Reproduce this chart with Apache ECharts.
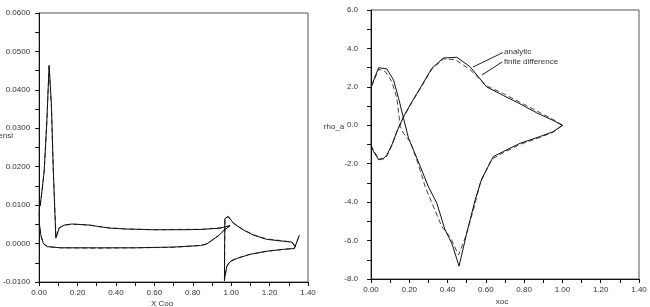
<!DOCTYPE html>
<html>
<head>
<meta charset="utf-8">
<script src="https://cdn.jsdelivr.net/npm/echarts@6/dist/echarts.min.js"></script>
<style>
    html, body { margin: 0; padding: 0; background: #fff; }
    #box { width: 650px; height: 307px; }
</style>
</head>
<body>
<div id="box"></div>
<script>
/*左图: 主翼和襟翼  [x, y]*/
var mainSolid = [
    [0.994, 0.0047], [0.942, 0.0040], [0.85, 0.0037], [0.751, 0.0036], [0.6, 0.0036],
    [0.526, 0.0037], [0.45, 0.0038], [0.37, 0.0040], [0.3, 0.0045], [0.265, 0.0048],
    [0.2, 0.0050], [0.17, 0.0051], [0.13, 0.0048], [0.104, 0.0040], [0.087, 0.0014],
    [0.083, 0.0018], [0.074, 0.0187], [0.064, 0.0360], [0.052, 0.0464], [0.04, 0.0317],
    [0.026, 0.0187], [0.012, 0.0125], [0.005, 0.0098], [0.003, 0.0104], [0.001, 0.0085],
    [0.0016, 0.0050], [0.009, 0.0022], [0.022, 0.0000], [0.043, -0.0008], [0.113, -0.0011],
    [0.3, -0.0011], [0.5, -0.0011], [0.7, -0.0009], [0.84, -0.0005], [0.873, -0.0001],
    [0.89, 0.0005], [0.933, 0.0020], [0.96, 0.0033], [0.994, 0.0047]
];
var mainDashed = [
    [0.994, 0.0046], [0.942, 0.0041], [0.85, 0.0037], [0.751, 0.0037], [0.6, 0.0036],
    [0.526, 0.0037], [0.45, 0.0038], [0.37, 0.0041], [0.3, 0.0045], [0.265, 0.0048],
    [0.2, 0.0050], [0.17, 0.0050], [0.13, 0.0048], [0.104, 0.0041], [0.088, 0.0015],
    [0.083, 0.0020], [0.074, 0.0185], [0.064, 0.0355], [0.052, 0.0460], [0.04, 0.0315],
    [0.026, 0.0185], [0.012, 0.0124], [0.005, 0.0097], [0.003, 0.0103], [0.001, 0.0084],
    [0.0016, 0.0049], [0.009, 0.0021], [0.022, 0.0000], [0.043, -0.0008], [0.113, -0.0011],
    [0.3, -0.0012], [0.5, -0.0011], [0.7, -0.0010], [0.84, -0.0005], [0.873, -0.0001],
    [0.89, 0.0005], [0.933, 0.0021], [0.96, 0.0034], [0.994, 0.0046]
];
var flapSolid = [
    [1.333, -0.0008], [1.316, 0.0004], [1.255, 0.0007], [1.185, 0.0011], [1.116, 0.0022],
    [1.064, 0.0035], [1.011, 0.0053], [0.995, 0.0064], [0.985, 0.0071], [0.975, 0.0072],
    [0.967, 0.0065], [0.966, 0.0000], [0.965, -0.0097], [0.968, -0.0085], [0.977, -0.0060],
    [0.994, -0.0047], [1.029, -0.0039], [1.098, -0.0028], [1.185, -0.0020], [1.272, -0.0015],
    [1.329, -0.0013], [1.333, -0.0011], [1.355, 0.0022]
];
var flapDashed = [
    [1.333, -0.0007], [1.316, 0.0004], [1.255, 0.0008], [1.185, 0.0012], [1.116, 0.0023],
    [1.064, 0.0036], [1.011, 0.0054], [0.995, 0.0063], [0.985, 0.0069], [0.975, 0.0070],
    [0.968, 0.0063], [0.966, 0.0000], [0.965, -0.0093], [0.968, -0.0083], [0.977, -0.0059],
    [0.994, -0.0046], [1.029, -0.0038], [1.098, -0.0028], [1.185, -0.0020], [1.272, -0.0015],
    [1.329, -0.0012], [1.333, -0.0010], [1.355, 0.0021]
];

/*右图: rho_a 解析 / 有限差分*/
var analytic = [
    [1.0, 0.0], [0.952, 0.25], [0.865, 0.65], [0.778, 1.12], [0.691, 1.55], [0.604, 2.0],
    [0.517, 3.05], [0.448, 3.54], [0.378, 3.5], [0.318, 2.97], [0.266, 2.09], [0.214, 1.23],
    [0.17, 0.45], [0.135, -0.33], [0.109, -1.02], [0.083, -1.54], [0.066, -1.72], [0.04, -1.8],
    [0.014, -1.37], [0.002, -1.1], [0.002, 2.04], [0.04, 3.0], [0.083, 2.93], [0.118, 2.35],
    [0.144, 1.41], [0.17, 0.37], [0.196, -0.67], [0.231, -1.5], [0.3, -3.2], [0.344, -4.06],
    [0.387, -5.45], [0.422, -6.14], [0.46, -7.33], [0.5, -5.62], [0.544, -3.89], [0.578, -2.8],
    [0.639, -1.63], [0.691, -1.37], [0.778, -0.94], [0.882, -0.59], [0.952, -0.33], [1.0, 0.0]
];
var finiteDiff = [
    [1.0, 0.0], [0.952, 0.3], [0.865, 0.75], [0.778, 1.2], [0.691, 1.65], [0.604, 2.05],
    [0.517, 2.9], [0.44, 3.42], [0.378, 3.45], [0.318, 2.92], [0.266, 2.05], [0.214, 1.2],
    [0.17, 0.42], [0.135, -0.35], [0.109, -1.05], [0.083, -1.6], [0.07, -1.75], [0.045, -1.75],
    [0.014, -1.35], [0.002, -1.05], [0.002, 2.0], [0.04, 2.92], [0.075, 2.79], [0.109, 2.27],
    [0.135, 1.41], [0.153, -0.07], [0.17, -0.42], [0.205, -0.85], [0.248, -2.06], [0.283, -3.2],
    [0.37, -5.28], [0.413, -5.8], [0.457, -6.75], [0.491, -5.88], [0.535, -4.41], [0.57, -3.02],
    [0.63, -1.76], [0.691, -1.43], [0.778, -1.0], [0.882, -0.63], [0.952, -0.36], [1.0, 0.0]
];

var fontName = '"Liberation Sans", Arial, sans-serif';

var axisCommon = function (min, max, interval, digits, margin) {
    return {
        type: 'value',
        min: min,
        max: max,
        interval: interval,
        axisLine: { show: true, onZero: false, lineStyle: { color: '#111', width: 1 } },
        axisTick: { show: true, inside: false, length: 4, lineStyle: { color: '#111' } },
        minorTick: { show: true, splitNumber: 2, length: 4, lineStyle: { color: '#111' } },
        splitLine: { show: false },
        axisLabel: {
            color: '#333', fontSize: 8, fontFamily: fontName, margin: margin,
            formatter: function (v) { return v.toFixed(digits); }
        }
    };
};

var lineSeries = function (data, dashed, xi, yi) {
    return {
        type: 'line',
        xAxisIndex: xi,
        yAxisIndex: yi,
        data: data,
        symbol: 'none',
        showSymbol: false,
        silent: true,
        lineStyle: {
            color: dashed ? '#444' : '#111',
            width: 1,
            type: dashed ? [5, 3] : 'solid'
        }
    };
};

var textItem = function (x, y, str, align) {
    return {
        type: 'text', x: x, y: y,
        style: { text: str, fill: '#333', font: '8px ' + fontName, textAlign: align, textVerticalAlign: 'middle' }
    };
};

var box = document.getElementById('box');
var myChart = echarts.init(box);
var options = {
    animation: false,
    backgroundColor: '#fff',
    grid: [
        { left: 39, top: 13, width: 269, height: 269, show: true, borderColor: '#555', borderWidth: 1 },
        { left: 371, top: 10, width: 268, height: 269, show: true, borderColor: '#555', borderWidth: 1 }
    ],
    xAxis: [
        Object.assign(axisCommon(0, 1.4, 0.2, 2, 7), { gridIndex: 0 }),
        Object.assign(axisCommon(0, 1.4, 0.2, 2, 7), { gridIndex: 1 })
    ],
    yAxis: [
        Object.assign(axisCommon(-0.01, 0.06, 0.01, 4, 9), { gridIndex: 0 }),
        Object.assign(axisCommon(-8, 6, 2, 1, 13), { gridIndex: 1 })
    ],
    series: [
        lineSeries(mainDashed, true, 0, 0),
        lineSeries(flapDashed, true, 0, 0),
        lineSeries(mainSolid, false, 0, 0),
        lineSeries(flapSolid, false, 0, 0),
        lineSeries(finiteDiff, true, 1, 1),
        lineSeries(analytic, false, 1, 1)
    ],
    graphic: [
        textItem(162, 304, 'X Coo', 'center'),
        textItem(13, 136, 'ensi', 'right'),
        textItem(334, 127, 'rho_a', 'center'),
        textItem(502, 302, 'xoc', 'center'),
        textItem(504, 52, 'analytic', 'left'),
        textItem(504, 61.5, 'finite difference', 'left'),
        { type: 'line', shape: { x1: 503, y1: 52.5, x2: 473, y2: 67 }, style: { stroke: '#222', lineWidth: 1 } },
        { type: 'line', shape: { x1: 502, y1: 62, x2: 482, y2: 75 }, style: { stroke: '#222', lineWidth: 1 } }
    ]
};
myChart.setOption(options);
</script>
</body>
</html>
